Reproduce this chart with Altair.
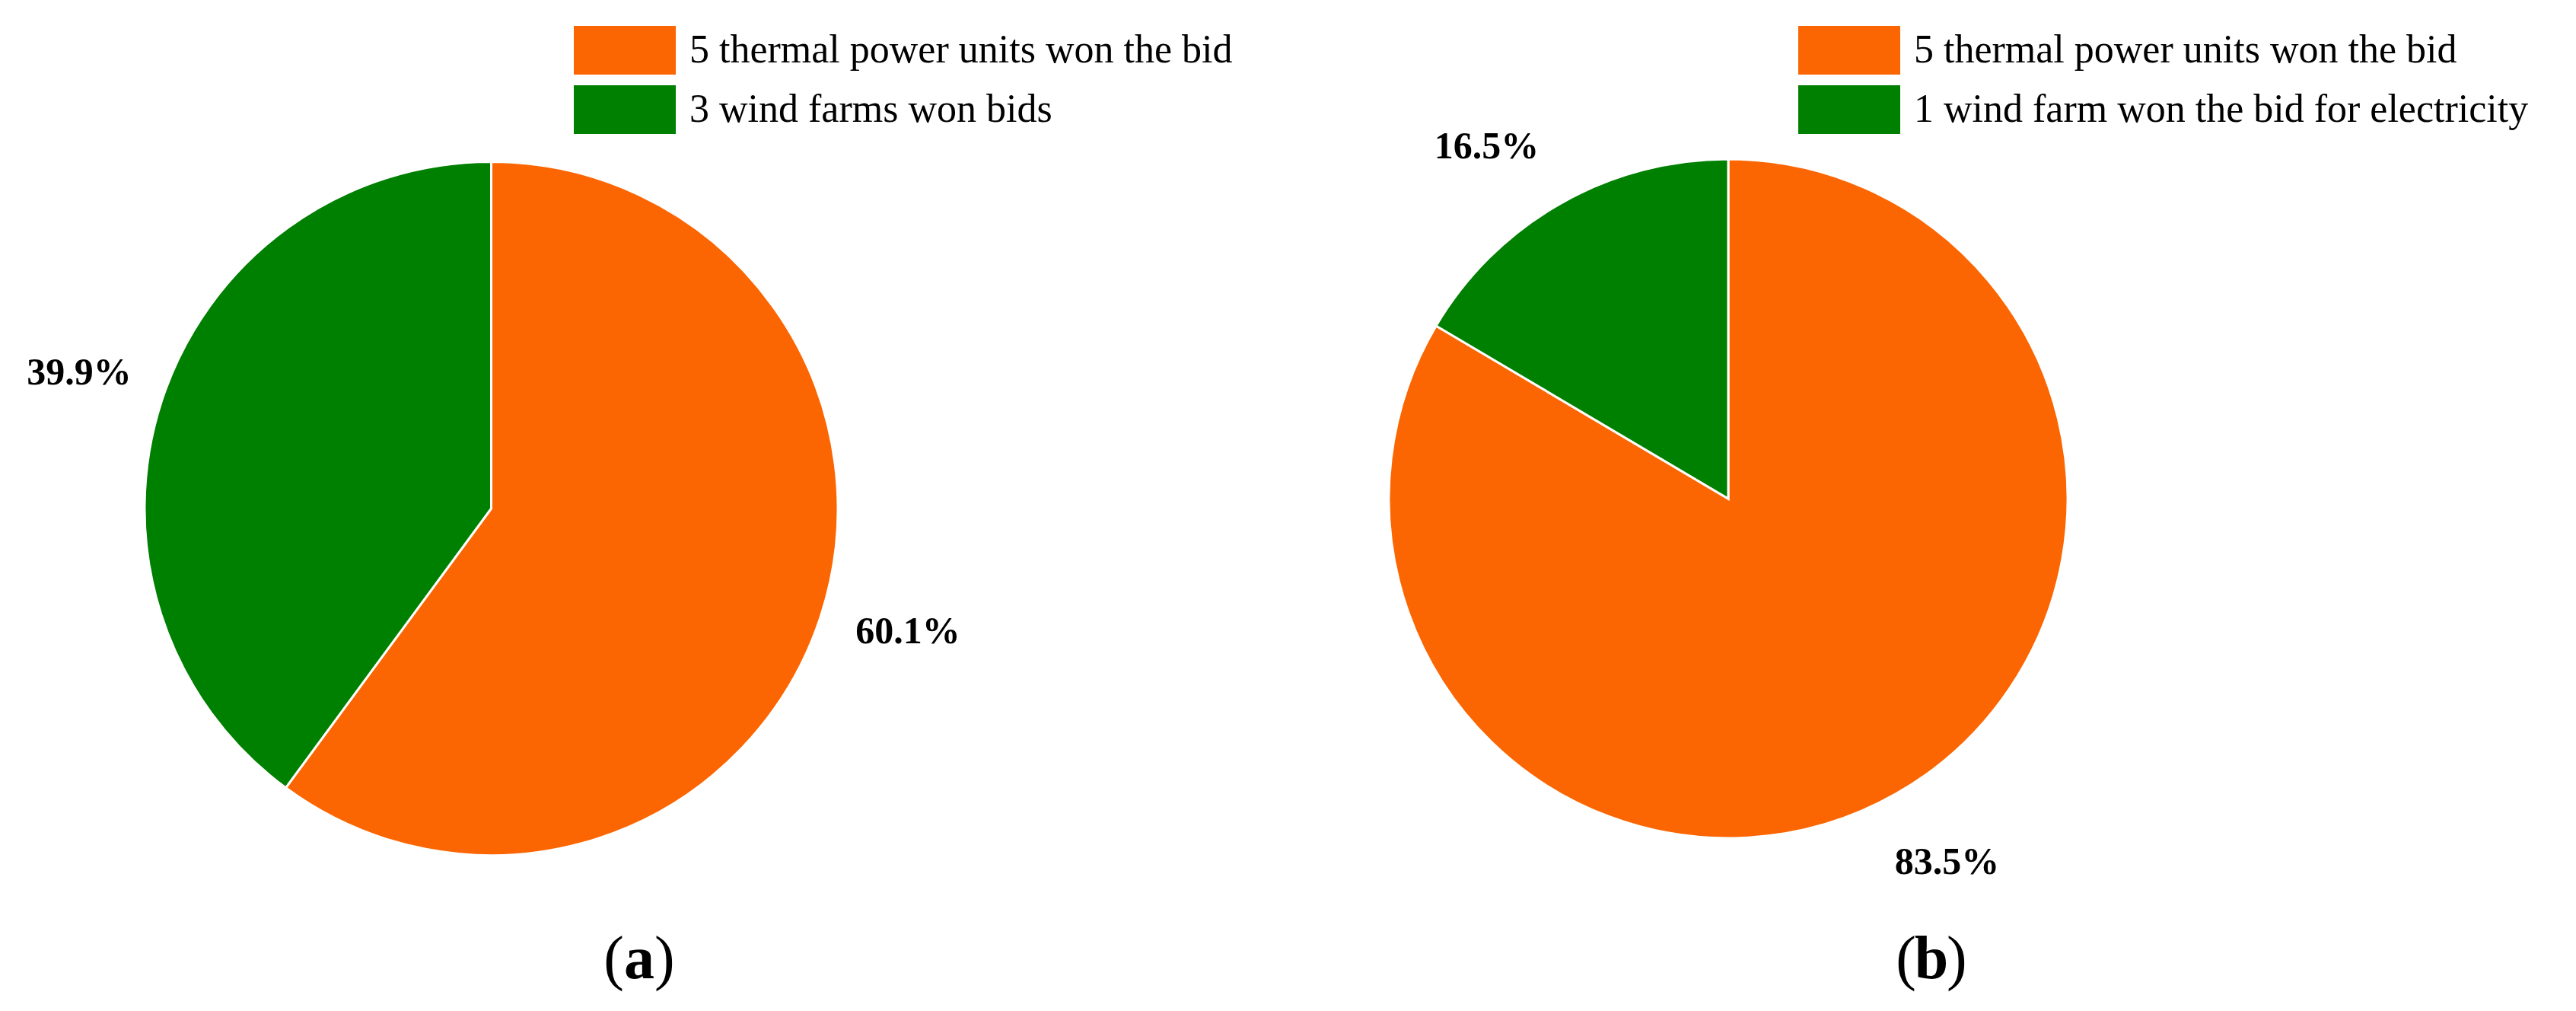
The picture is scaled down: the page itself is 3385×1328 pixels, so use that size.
import altair as alt
import pandas as pd

# ---- data ----
cats_a = ["5 thermal power units won the bid", "3 wind farms won bids"]
vals_a = [60.1, 39.9]
cats_b = ["5 thermal power units won the bid", "1 wind farm won the bid for electricity"]
vals_b = [83.5, 16.5]
captions = ["a", "b"]

ORANGE = "#FB6602"
GREEN = "#008000"
FONT = "Liberation Serif"

W, H = 3369, 1312


def make_df(cats, vals):
    return pd.DataFrame({"category": cats, "value": vals, "idx": list(range(len(cats)))})


def pie(cats, vals, cx, cy, r, lab_r, offsets, legend_x, legend_y):
    df = make_df(cats, vals)
    theta_scale = alt.Scale(domain=[0, 100])
    arc = alt.Chart(df).mark_arc(radius=r, stroke="white", strokeWidth=3).encode(
        theta=alt.Theta("value:Q", stack=True, scale=theta_scale),
        order=alt.Order("idx:Q"),
        color=alt.Color(
            "category:N",
            sort=cats,
            scale=alt.Scale(domain=cats, range=[ORANGE, GREEN]),
            legend=alt.Legend(
                orient="none", legendX=legend_x, legendY=legend_y, title=None,
                symbolType="M-1,-0.478H1V0.478H-1Z", symbolSize=17956,
                symbolStrokeWidth=0, symbolOpacity=1, clipHeight=64, rowPadding=14,
                labelFont=FONT, labelFontSize=52, labelColor="black",
                labelOffset=18, labelLimit=3000, padding=0,
            ),
        ),
        x=alt.value(cx), y=alt.value(cy),
    )
    layers = [arc]
    for i, (dx, dy) in enumerate(offsets):
        t = (
            alt.Chart(df)
            .transform_window(cum="sum(value)", sort=[alt.SortField("idx")], frame=[None, 0])
            .transform_calculate(mid="datum.cum - datum.value / 2",
                                 lbl="format(datum.value, '.1f') + '%'")
            .transform_filter(f"datum.idx == {i}")
            .mark_text(radius=lab_r, dx=dx, dy=dy, font=FONT, fontSize=50,
                       fontWeight="bold", color="black", align="center", baseline="middle")
            .encode(theta=alt.Theta("mid:Q", stack=None, scale=theta_scale),
                    text="lbl:N", x=alt.value(cx), y=alt.value(cy))
        )
        layers.append(t)
    return alt.layer(*layers)


pie_a = pie(cats_a, vals_a, 637.5, 660, 455.5, 570, [(6, -16), (0, 0)], 746, 26)
pie_b = pie(cats_b, vals_b, 2263, 647, 446, 560, [(10, -8), (-40, 24)], 2355, 26)


def caption(letter, cx, y):
    cdf = pd.DataFrame({"c": [letter]})
    base = alt.Chart(cdf)
    op = base.mark_text(font=FONT, fontSize=80, align="right", baseline="alphabetic",
                        color="black").encode(text=alt.value("("), x=alt.value(cx - 20), y=alt.value(y))
    mid = base.mark_text(font=FONT, fontSize=80, fontWeight="bold", align="center",
                         baseline="alphabetic", color="black").encode(text="c:N", x=alt.value(cx), y=alt.value(y))
    cl = base.mark_text(font=FONT, fontSize=80, align="left", baseline="alphabetic",
                        color="black").encode(text=alt.value(")"), x=alt.value(cx + 20), y=alt.value(y))
    return alt.layer(op, mid, cl)


cap_a = caption(captions[0], 832, 1277)
cap_b = caption(captions[1], 2530, 1277)

chart = (
    alt.layer(pie_a, pie_b, cap_a, cap_b)
    .resolve_scale(theta="independent", color="independent")
    .properties(width=W, height=H, padding=0, autosize=alt.AutoSizeParams(type="none"))
    .configure_view(stroke=None)
)

chart.save("out.html", embed_options={"renderer": "svg", "actions": False})
